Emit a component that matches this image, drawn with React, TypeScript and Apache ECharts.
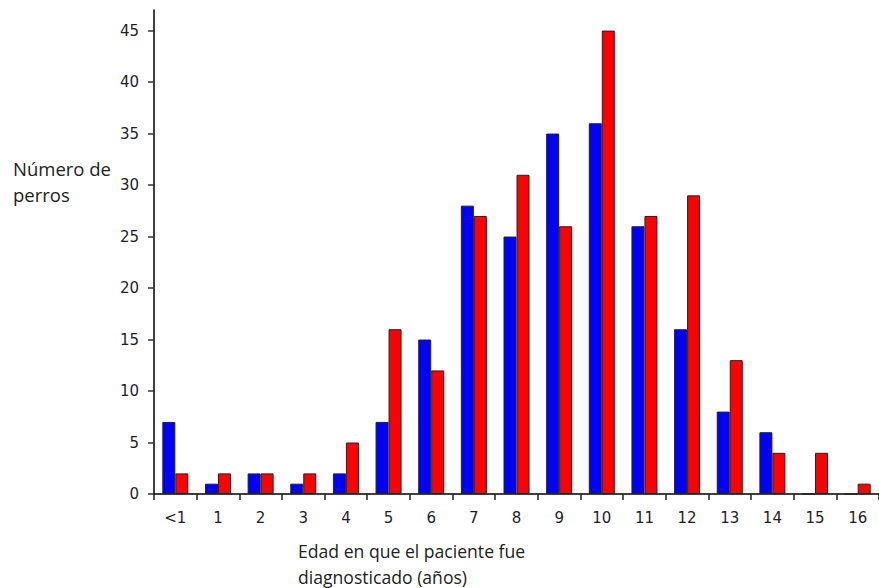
import React, { useEffect, useRef } from "react";
import * as echarts from "echarts";

const categories = ["<1", "1", "2", "3", "4", "5", "6", "7", "8", "9", "10", "11", "12", "13", "14", "15", "16"];
const blueValues = [7, 1, 2, 1, 2, 7, 15, 28, 25, 35, 36, 26, 16, 8, 6, 0, 0];
const redValues = [2, 2, 2, 2, 5, 16, 12, 27, 31, 26, 45, 27, 29, 13, 4, 4, 1];
const yTicks = [0, 5, 10, 15, 20, 25, 30, 35, 40, 45];
const yAxisTitle = "Número de\nperros";
const xAxisTitle = "Edad en que el paciente fue\ndiagnosticado (años)";

export default function App() {
  const ref = useRef<HTMLDivElement>(null);
  useEffect(() => {
    if (!ref.current) return;
    const chart = echarts.init(ref.current, null, { renderer: "svg" });
    const labelFont = "'DejaVu Sans', 'Liberation Sans', sans-serif";
    const titleFont = "'Open Sans', 'Noto Sans', sans-serif";
    chart.setOption({
      animation: false,
      backgroundColor: "#ffffff",
      grid: { left: 154, top: 10, width: 731, bottom: 94, containLabel: false },
      xAxis: {
        type: "category",
        data: categories,
        boundaryGap: true,
        axisLine: { show: true, lineStyle: { color: "#000", width: 1.5 } },
        axisTick: { show: true, length: 6, lineStyle: { color: "#222", width: 1.5 } },
        axisLabel: { color: "#1e1e2a", fontSize: 15, fontFamily: labelFont, margin: 16 },
        splitLine: { show: false },
      },
      yAxis: {
        type: "value",
        min: 0,
        max: 47,
        interval: 5,
        axisLine: { show: true, lineStyle: { color: "#000", width: 1.5 } },
        axisTick: { show: true, length: 6, customValues: yTicks, lineStyle: { color: "#333", width: 1.5 } },
        axisLabel: { color: "#1e1e2a", fontSize: 15, fontFamily: labelFont, margin: 15, customValues: yTicks },
        splitLine: { show: false },
      },
      series: [
        {
          type: "bar",
          data: blueValues,
          barWidth: 13,
          barGap: "0%",
          itemStyle: { color: "#0000ff", borderColor: "#222", borderWidth: 1 },
        },
        {
          type: "bar",
          data: redValues,
          barWidth: 13,
          barGap: "0%",
          itemStyle: { color: "#ff0000", borderColor: "#222", borderWidth: 1 },
        },
      ],
      graphic: [
        {
          type: "text",
          left: 13,
          top: 155,
          style: { text: yAxisTitle, fill: "#222", fontSize: 18.5, fontFamily: titleFont, lineHeight: 26 },
        },
        {
          type: "text",
          left: 298,
          top: 538,
          style: { text: xAxisTitle, fill: "#222", fontSize: 17.6, fontFamily: titleFont, lineHeight: 26 },
        },
      ],
    });
    return () => chart.dispose();
  }, []);
  return <div ref={ref} style={{ width: 879, height: 588, position: "absolute", left: 0, top: 0 }} />;
}
